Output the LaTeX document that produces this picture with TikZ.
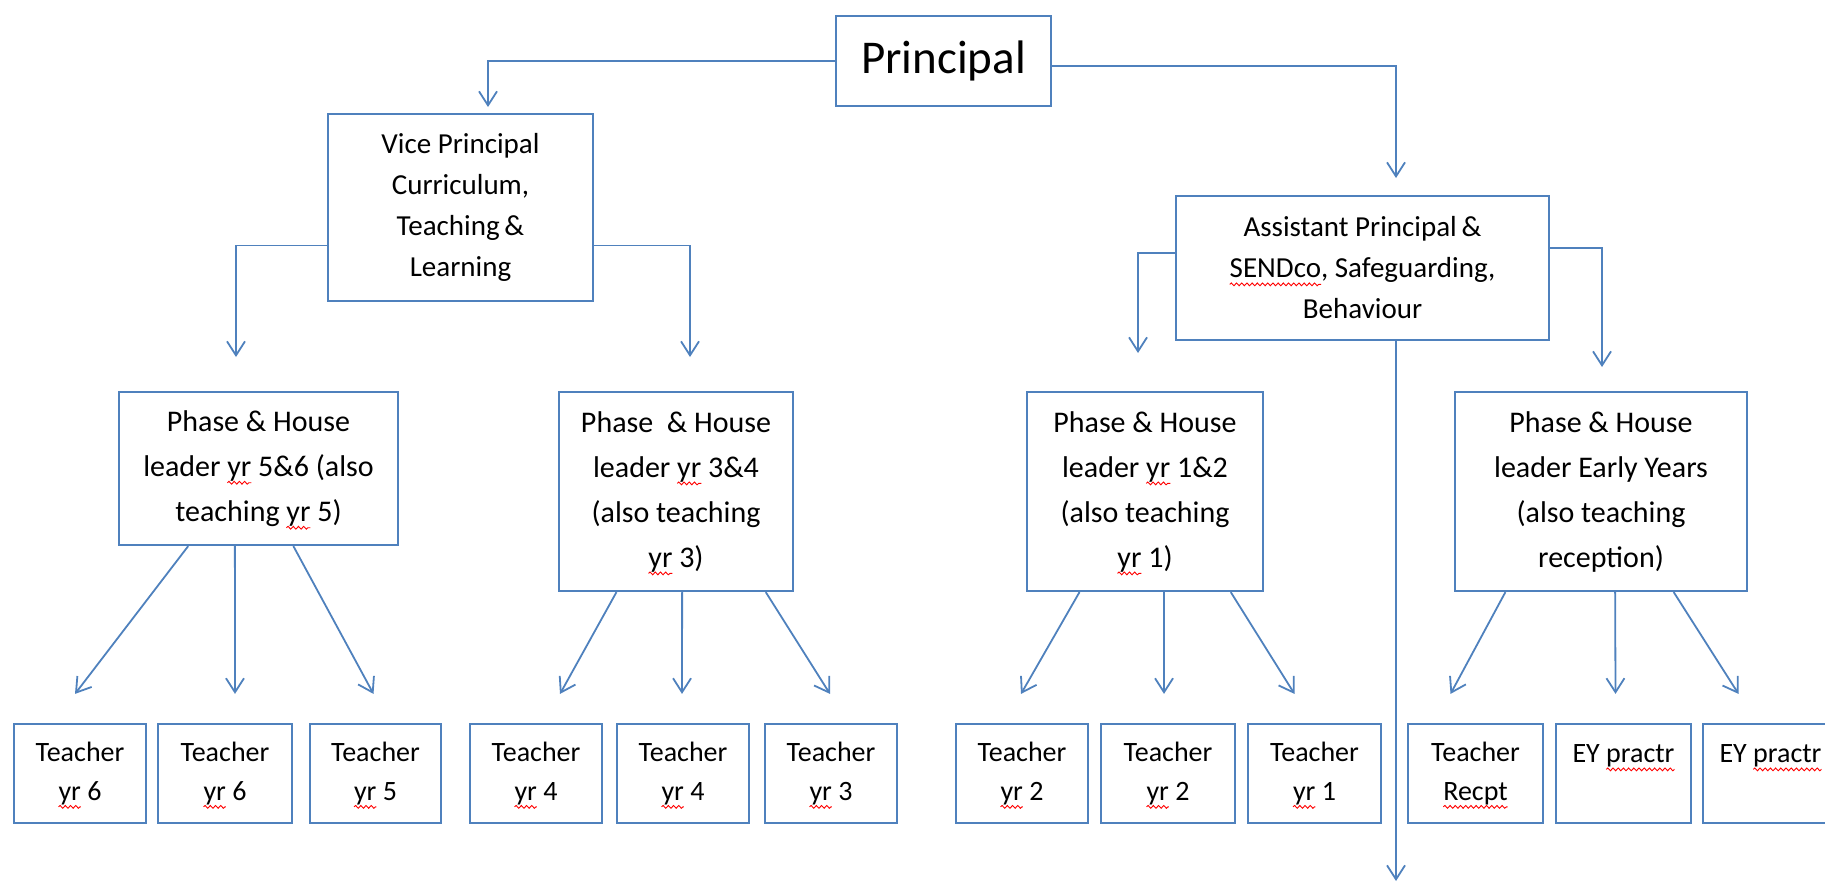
\documentclass[tikz,border=0pt]{standalone}
\usepackage{fontspec}
\setmainfont{Carlito}
\usepackage{xcolor}
\usetikzlibrary{arrows.meta,calc,decorations.pathmorphing}

\definecolor{ln}{HTML}{4F81BD}
\newdimen\splw
\newcommand\spl[1]{\setbox0\hbox{#1}\splw=\wd0\rlap{\tikz[overlay,baseline=0pt]\draw[red,line width=0.45pt,decorate,decoration={snake,amplitude=0.7pt,segment length=2.6pt}] (0pt,-3.2pt) -- (\splw,-3.2pt);}\box0\relax}

\tikzset{
  box/.style={draw=ln, line width=1.1pt, align=center, inner sep=0pt},
  big/.style={box, font=\fontsize{23.5}{28}\selectfont},
  mid/.style={box, font=\fontsize{14.5}{20.5}\selectfont},
  lead/.style={box, font=\fontsize{15}{22.5}\selectfont},
  tch/.style={box, minimum height=49.5pt, font=\fontsize{14}{19.5}\selectfont},
  conn/.style={ln, line width=0.9pt, -{Straight Barb[length=7pt,width=9pt]}}
}

\begin{document}
\begin{tikzpicture}[x=0.5pt,y=-0.5pt]
  \useasboundingbox (0,0) rectangle (1825,884);
  \clip (0,0) rectangle (1825,884);

  \node[big, minimum width=107.5pt, minimum height=45pt] (prin) at (943.5,61) {Principal};
  \node[mid, minimum width=132.5pt, minimum height=93.5pt] (vp) at (460.5,207.5)
    {Vice Principal\\Curriculum,\\Teaching\,\&\\Learning};
  \node[mid, minimum width=186.5pt, minimum height=72pt] (ap) at (1362.5,268)
    {Assistant Principal\,\&\\\spl{SENDco}, Safeguarding,\\Behaviour};

  \node[lead, minimum width=139.5pt, minimum height=76.5pt] (p56) at (258.5,468.5)
    {Phase \& House\\leader \spl{yr} 5\&6 (also\\teaching \spl{yr} 5)};
  \node[lead, minimum width=117pt, minimum height=99.5pt] (p34) at (676,491.5)
    {Phase \ \& House\\leader \spl{yr} 3\&4\\(also teaching\\\spl{yr} 3)};
  \node[lead, minimum width=118pt, minimum height=99.5pt] (p12) at (1145,491.5)
    {Phase \& House\\leader \spl{yr} 1\&2\\(also teaching\\\spl{yr} 1)};
  \node[lead, minimum width=146pt, minimum height=99.5pt] (pey) at (1601,491.5)
    {Phase \& House\\leader Early Years\\(also teaching\\reception)};

  \node[tch, minimum width=66pt] (t1) at (80,773.5) {Teacher\\\spl{yr} 6};
  \node[tch, minimum width=67pt] (t2) at (225,773.5) {Teacher\\\spl{yr} 6};
  \node[tch, minimum width=65.5pt] (t3) at (375.5,773.5) {Teacher\\\spl{yr} 5};
  \node[tch, minimum width=66pt] (t4) at (536,773.5) {Teacher\\\spl{yr} 4};
  \node[tch, minimum width=66pt] (t5) at (683,773.5) {Teacher\\\spl{yr} 4};
  \node[tch, minimum width=66pt] (t6) at (831,773.5) {Teacher\\\spl{yr} 3};
  \node[tch, minimum width=66pt] (t7) at (1022,773.5) {Teacher\\\spl{yr} 2};
  \node[tch, minimum width=67pt] (t8) at (1168,773.5) {Teacher\\\spl{yr} 2};
  \node[tch, minimum width=66.5pt] (t9) at (1314.5,773.5) {Teacher\\\spl{yr} 1};
  \node[tch, minimum width=67.5pt] (t10) at (1475.5,773.5) {Teacher\\\spl{Recpt}};
  \node[tch, minimum width=67.5pt] (t11) at (1623.5,773.5) {EY \spl{practr}\\\mbox{}};
  \node[tch, minimum width=67.5pt] (t12) at (1770.5,773.5) {EY \spl{practr}\\\mbox{}};

  \coordinate (vpin) at (488,107);
  \coordinate (apin) at (1396,178);
  \coordinate (v56in) at (236,357);
  \coordinate (v34in) at (690,357);
  \coordinate (a12in) at (1138,353);
  \coordinate (aeyin) at (1602,367);
  \coordinate (apout) at (1396,881);

  \draw[conn] (prin.west) -| (vpin);
  \draw[conn] ([yshift=-2.5pt]prin.east) -| (apin);
  \draw[conn] ([yshift=-19pt]vp.west) -| (v56in);
  \draw[conn] ([yshift=-19pt]vp.east) -| (v34in);
  \draw[conn] ([yshift=7.5pt]ap.west) -| (a12in);
  \draw[conn] ([yshift=10pt]ap.east) -| (aeyin);
  \draw[conn] (ap.south -| apout) -- (apout);

  \foreach \src/\f/\ch/\dx in {p56/.25/t1/-5, p56/.416/t2/10, p56/.624/t3/-2,
      p34/.248/t4/24, p34/.526/t5/-1, p34/.88/t6/-1,
      p12/.225/t7/-1, p12/.58/t8/-4, p12/.86/t9/-20,
      pey/.175/t10/-25, pey/.548/t11/-8, pey/.747/t12/-32}
    \draw[conn] ($(\src.south west)!\f!(\src.south east)$) -- ([shift={(\dx,-29)}]\ch.north);
\end{tikzpicture}
\end{document}
